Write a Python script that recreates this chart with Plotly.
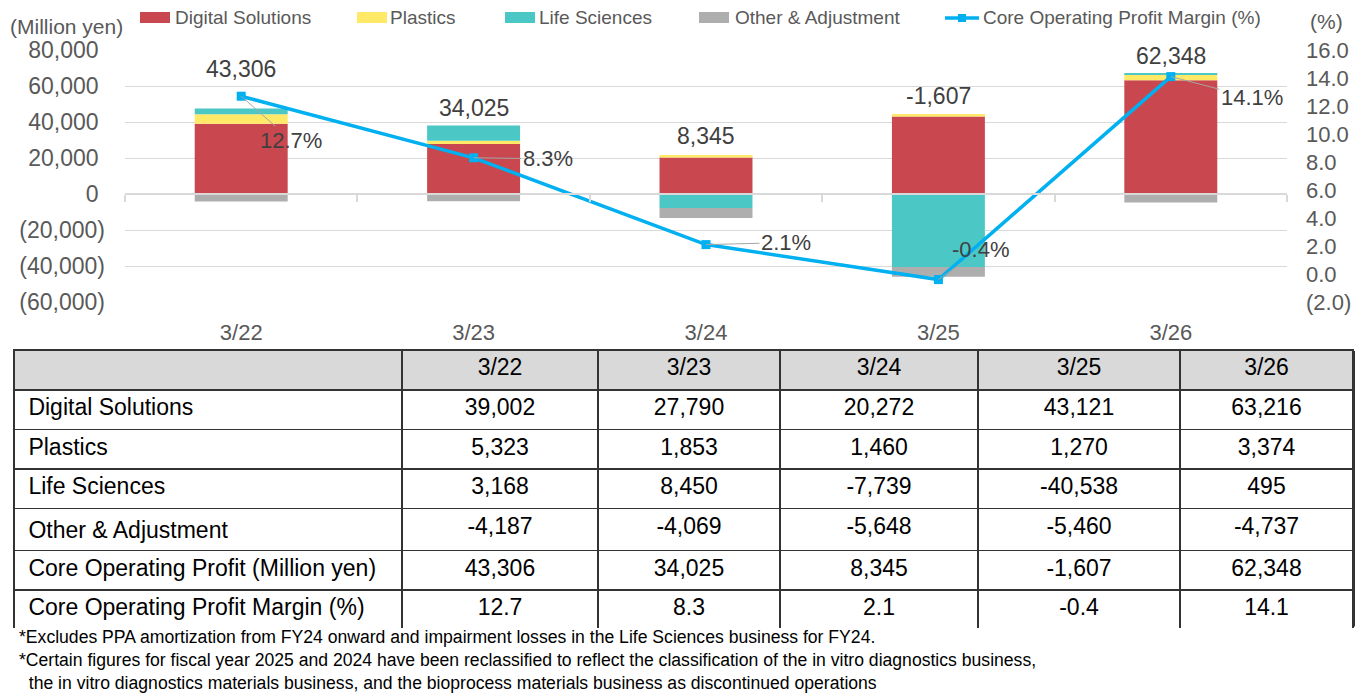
import plotly.graph_objects as go

# fiscal years (March year-end)
years = ["3/22", "3/23", "3/24", "3/25", "3/26"]

digital = [39002, 27790, 20272, 43121, 63216]
plastics = [5323, 1853, 1460, 1270, 3374]
life_sciences = [3168, 8450, -7739, -40538, 495]
other_adj = [-4187, -4069, -5648, -5460, -4737]
core_profit = [43306, 34025, 8345, -1607, 62348]
margin = [12.7, 8.3, 2.1, -0.4, 14.1]

# Excel-style "#,##0_);(#,##0)" labels: positives carry a trailing pad
left_ticks = [80000, 60000, 40000, 20000, 0, -20000, -40000, -60000]
left_tick_text = ["80,000\u00a0", "60,000\u00a0", "40,000\u00a0", "20,000\u00a0", "0\u00a0",
                  "(20,000)", "(40,000)", "(60,000)"]
right_ticks = [16, 14, 12, 10, 8, 6, 4, 2, 0, -2]
right_tick_text = ["16.0", "14.0", "12.0", "10.0", "8.0", "6.0",
                   "4.0", "2.0", "0.0", "(2.0)"]

row_names = ["Digital Solutions", "Plastics", "Life Sciences", "Other & Adjustment",
             "Core Operating Profit (Million yen)", "Core Operating Profit Margin (%)"]

footnotes = [
    "*Excludes PPA amortization from FY24 onward and impairment losses in the Life Sciences business for FY24.",
    "*Certain figures for fiscal year 2025 and 2024 have been reclassified to reflect the classification of the in vitro diagnostics business,",
    "  the in vitro diagnostics materials business, and the bioprocess materials business as discontinued operations",
]

FONT = "Liberation Sans, Arial, sans-serif"
AX_GRAY = "#595959"
LBL_GRAY = "#404040"
GRID = "#D9D9D9"
LINE_BLUE = "#00B0F0"
TBL_LINE = "#333333"

# the page body has an 8px margin, so the figure is drawn 8px in;
# positions below are given in page pixels and converted here
OFF = 8
FW, FH = 1364 - OFF, 697 - OFF


def fx(p):
    return (p - OFF) / FW


def fy(p):
    return 1 - (p - OFF) / FH


# plot area (page pixels)
px_l, px_r, px_t, px_b = 125, 1287, 50, 302
ymin, ymax = -60000, 80000
y_dom = [fy(px_b), fy(px_t)]
zero_pos = y_dom[0] + (0 - ymin) / (ymax - ymin) * (y_dom[1] - y_dom[0])

fig = go.Figure()

series = [
    ("Digital Solutions", digital, "#C9474F"),
    ("Plastics", plastics, "#FFE966"),
    ("Life Sciences", life_sciences, "#4BC8C6"),
    ("Other & Adjustment", other_adj, "#AEAEAE"),
]
for name, vals, col in series:
    fig.add_trace(go.Bar(
        x=years, y=vals, name=name, marker=dict(color=col, line=dict(width=0)),
        width=0.4, hoverinfo="skip", showlegend=False,
    ))

fig.add_trace(go.Scatter(
    x=years, y=margin, name="Core Operating Profit Margin (%)",
    xaxis="x2", yaxis="y2", mode="lines+markers",
    line=dict(color=LINE_BLUE, width=3.5),
    marker=dict(symbol="square", size=9, color=LINE_BLUE),
    hoverinfo="skip", showlegend=False,
))

# total labels above the positive stack
total_shift = [40, 17, 19, 18, 17]
for i, yr in enumerate(years):
    top = sum(v for v in (digital[i], plastics[i], life_sciences[i], other_adj[i]) if v > 0)
    fig.add_annotation(
        x=yr, y=top, xref="x", yref="y", text=f"{core_profit[i]:,}",
        showarrow=False, yanchor="middle", yshift=total_shift[i],
        font=dict(size=23, color=LBL_GRAY, family=FONT),
    )

# margin labels with leader lines
label_off = [(50, 44), (74, 1), (80, -2), (42, -30), (81, 21)]
for i, yr in enumerate(years):
    ax, ay = label_off[i]
    fig.add_annotation(
        x=yr, y=margin[i], xref="x", yref="y2", text=f"{margin[i]:.1f}%",
        showarrow=True, arrowhead=0, arrowwidth=1, arrowcolor="#A6A6A6",
        ax=ax, ay=ay, standoff=0,
        font=dict(size=22, color=LBL_GRAY, family=FONT),
    )

# axis unit captions
fig.add_annotation(x=fx(8), y=fy(26), xref="paper", yref="paper",
                   text="(Million yen)", showarrow=False, xanchor="left", yanchor="middle",
                   font=dict(size=21, color=AX_GRAY, family=FONT))
fig.add_annotation(x=fx(1326), y=fy(22), xref="paper", yref="paper",
                   text="(%)", showarrow=False, xanchor="center", yanchor="middle",
                   font=dict(size=21, color=AX_GRAY, family=FONT))

# legend row drawn by hand (wide colour keys like the original)
legend_items = [("Digital Solutions", "#C9474F", 140, 173),
                ("Plastics", "#FFE966", 357, 388),
                ("Life Sciences", "#4BC8C6", 505, 537),
                ("Other & Adjustment", "#AEAEAE", 699, 733)]
for name, col, x0, tx in legend_items:
    fig.add_shape(type="rect", xref="paper", yref="paper",
                  x0=fx(x0), x1=fx(x0 + 30), y0=fy(23), y1=fy(12),
                  fillcolor=col, line=dict(width=0))
    fig.add_annotation(x=fx(tx), y=fy(17), xref="paper", yref="paper", text=name,
                       showarrow=False, xanchor="left", yanchor="middle",
                       font=dict(size=19, color=AX_GRAY, family=FONT))
fig.add_shape(type="line", xref="paper", yref="paper", x0=fx(945), x1=fx(979),
              y0=fy(18), y1=fy(18), line=dict(color=LINE_BLUE, width=3.5))
fig.add_shape(type="rect", xref="paper", yref="paper", x0=fx(958), x1=fx(966),
              y0=fy(22), y1=fy(14), fillcolor=LINE_BLUE, line=dict(width=0))
fig.add_annotation(x=fx(981), y=fy(17), xref="paper", yref="paper",
                   text="Core Operating Profit Margin (%)", showarrow=False,
                   xanchor="left", yanchor="middle",
                   font=dict(size=19, color=AX_GRAY, family=FONT))

# table below the chart
cell_vals = [[" " + r for r in row_names]]
for i in range(len(years)):
    cell_vals.append([
        f"{digital[i]:,}", f"{plastics[i]:,}", f"{life_sciences[i]:,}",
        f"{other_adj[i]:,}", f"{core_profit[i]:,}", f"{margin[i]:.1f}",
    ])
tbl_x = [14, 1353]
tbl_y = [350, 628]
fig.add_trace(go.Table(
    domain=dict(x=[fx(tbl_x[0]), fx(tbl_x[1])], y=[fy(tbl_y[1]), fy(tbl_y[0])]),
    columnwidth=[388, 196, 182, 198, 202, 173],
    header=dict(
        values=[""] + years, height=40, align=["left"] + ["center"] * 5,
        fill_color="#D9D9D9", line=dict(color=TBL_LINE, width=1.5),
        font=dict(size=23, color="black", family=FONT),
    ),
    cells=dict(
        values=cell_vals, height=39.5, align=["left"] + ["center"] * 5,
        fill_color="white", line=dict(color=TBL_LINE, width=1.5),
        font=dict(size=23, color="black", family=FONT),
    ),
))
# outer right border of the table (plotly clips the last column's edge)
fig.add_shape(type="line", xref="paper", yref="paper",
              x0=fx(tbl_x[1] + 1), x1=fx(tbl_x[1] + 1),
              y0=fy(tbl_y[0] + 1), y1=fy(tbl_y[0] + 40 + 6 * 39.5 - 0.5),
              line=dict(color=TBL_LINE, width=2), layer="above")

for k, txt in enumerate(footnotes):
    fig.add_annotation(x=fx(17), y=fy(637 + 23 * k), xref="paper", yref="paper",
                       text=txt, showarrow=False, xanchor="left", yanchor="middle",
                       font=dict(size=17.6, color="black", family=FONT))

fig.update_layout(
    width=FW, height=FH, barmode="relative",
    margin=dict(l=0, r=0, t=0, b=0, autoexpand=False),
    paper_bgcolor="white", plot_bgcolor="white",
    font=dict(family=FONT, color=AX_GRAY),
    showlegend=False,
    xaxis=dict(
        domain=[fx(px_l), fx(px_r)], anchor="y", showgrid=False, showline=False,
        ticks="", ticklabelstandoff=15, tickfont=dict(size=22, color=AX_GRAY),
        automargin=False,
    ),
    xaxis2=dict(
        overlaying="x", matches="x", anchor="free", position=zero_pos,
        showticklabels=False, showgrid=False, showline=True, linecolor=GRID,
        linewidth=1.5, ticks="outside", tickson="boundaries", ticklen=7,
        tickcolor=GRID, tickwidth=1.5, automargin=False,
    ),
    yaxis=dict(
        domain=y_dom, range=[ymin, ymax], tickvals=left_ticks, ticktext=left_tick_text,
        showgrid=True, gridcolor=GRID, gridwidth=1.3, zeroline=False,
        ticks="", ticklabelstandoff=19, tickfont=dict(size=23, color=AX_GRAY),
        automargin=False,
    ),
    yaxis2=dict(
        overlaying="y", side="right", anchor="x", range=[-2, 16],
        tickvals=right_ticks, ticktext=right_tick_text, showgrid=False,
        zeroline=False, ticks="", ticklabelstandoff=18,
        tickfont=dict(size=22, color=AX_GRAY), automargin=False,
    ),
)

fig.write_html("out.html")
